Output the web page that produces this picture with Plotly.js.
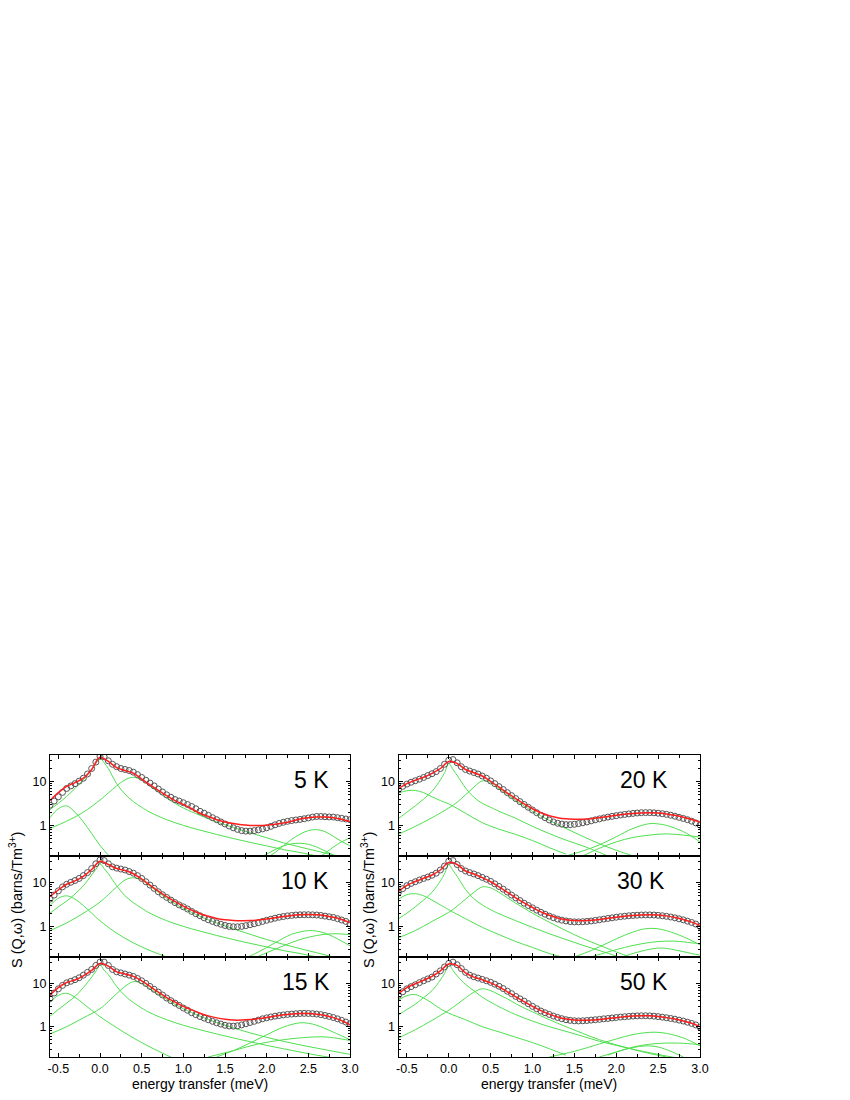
<!DOCTYPE html>
<html>
<head>
<meta charset="utf-8">
<script src="https://cdn.plot.ly/plotly-3.0.1.min.js"></script>
<style>
  html, body { margin: 0; padding: 0; background: #fff; }
  #chart { width: 850px; height: 1100px; }
</style>
</head>
<body>
<div id="chart"></div>
<script>
// === S(Q,w) spectra at six temperatures: data, fit and fit components ===

const FONT = 'Arial, "Liberation Sans", sans-serif';
const GREEN = '#4fe04f';
const RED = '#ff1e1e';
const DOT = '#555555';

// energy transfer grid of the measured points and of the fit curves (meV)
const E_DATA = [-0.60,-0.55,-0.50,-0.45,-0.40,-0.35,-0.30,-0.25,-0.20,-0.15,-0.10,-0.05,
  0.00,0.05,0.10,0.15,0.20,0.25,0.30,0.35,0.40,0.45,0.50,0.55,0.60,0.65,0.70,0.75,
  0.80,0.85,0.90,0.95,1.00,1.05,1.10,1.15,1.20,1.25,1.30,1.35,1.40,1.45,1.50,1.55,
  1.60,1.65,1.70,1.75,1.80,1.85,1.90,1.95,2.00,2.05,2.10,2.15,2.20,2.25,2.30,2.35,
  2.40,2.45,2.50,2.55,2.60,2.65,2.70,2.75,2.80,2.85,2.90,2.95,3.00];
const E_FIT = [-0.6,-0.5,-0.4,-0.3,-0.2,-0.1,0.0,0.1,0.2,0.3,0.4,0.5,0.6,0.7,0.8,0.9,
  1.0,1.1,1.2,1.3,1.4,1.5,1.6,1.7,1.8,1.9,2.0,2.1,2.2,2.3,2.4,2.5,2.6,2.7,2.8,2.9,3.0];

// x positions of component curves
const E_QE = [-0.6,-0.5,-0.4,-0.3,-0.2,-0.1,-0.05,0.0,0.05,0.1,0.2,0.3,0.4,0.5,0.6,
  0.8,1.0,1.2,1.4,1.6,1.8,2.0,2.2,2.4,2.6,2.8];
const E_IN = [-0.6,-0.4,-0.2,0.0,0.1,0.2,0.3,0.4,0.5,0.6,0.7,0.8,0.9,1.0,1.2,1.4,
  1.6,1.8,2.0,2.2,2.4,2.6,2.8,3.0];

// ---- 5 K ----
const data5 = [2.9,3.6,4.5,5.7,7.0,8.0,9.0,10.3,12.0,15,20,28,38,37,30,25,22,20,19,18,
  16.5,14.5,12.5,10.8,9.3,8.0,6.8,5.8,5.0,4.4,3.9,3.6,3.3,3.0,2.7,2.4,2.1,1.9,1.7,1.5,
  1.35,1.2,1.08,0.97,0.88,0.81,0.76,0.74,0.74,0.76,0.79,0.83,0.88,0.95,1.03,1.11,1.18,
  1.24,1.29,1.33,1.37,1.42,1.48,1.55,1.60,1.60,1.58,1.56,1.55,1.50,1.45,1.40,1.35];
const fit5 = [3.7,5.6,7.8,9.5,12,19,36,29,21,18,15.6,11.5,8.5,6.3,4.8,3.7,3.0,2.4,1.9,
  1.6,1.35,1.2,1.1,1.03,1.0,0.99,1.01,1.06,1.13,1.25,1.4,1.5,1.55,1.55,1.5,1.38,1.22];
const comp5 = [
  { e: [-0.6,-0.5,-0.4,-0.3,-0.2,-0.1,0.0,0.1,0.15], s: [1.5,2.4,2.8,2.0,1.2,0.65,0.35,0.21,0.17] },
  { e: E_QE, s: [2.3,3.2,4.6,7,11,19,26,34,27,20,9,5.2,3.5,2.6,2.0,1.35,1.0,0.78,0.62,0.5,0.41,0.34,0.28,0.24,0.2,0.17] },
  { e: E_IN, s: [0.85,1.25,2.0,3.8,5.5,8,11,12.6,11,8,5.8,4.2,3.2,2.5,1.7,1.2,0.9,0.68,0.52,0.4,0.32,0.26,0.21,0.18] },
  { e: [1.9,2.0,2.1,2.2,2.3,2.4,2.5,2.6,2.7,2.8,2.9], s: [0.17,0.22,0.28,0.34,0.38,0.39,0.37,0.32,0.26,0.21,0.17] },
  { e: [2.0,2.1,2.2,2.3,2.4,2.5,2.6,2.7,2.8,2.9,3.0], s: [0.18,0.24,0.34,0.48,0.63,0.76,0.8,0.72,0.56,0.43,0.34] },
  { e: [2.6,2.7,2.8,2.9,3.0], s: [0.17,0.23,0.32,0.42,0.52] }
];

// ---- 10 K ----
const data10 = [4.2,5.2,6.5,8.0,9.2,10.2,11.2,12.5,14.5,17,21,27,33,32,27,23,21.5,20.5,
  19.5,18,16.5,14.5,12.5,10.5,8.8,7.4,6.2,5.3,4.6,4.0,3.5,3.1,2.8,2.5,2.2,1.95,1.75,
  1.57,1.42,1.3,1.2,1.12,1.05,1.0,0.98,0.98,1.0,1.04,1.09,1.15,1.22,1.3,1.38,1.46,1.54,
  1.62,1.68,1.74,1.78,1.82,1.84,1.85,1.85,1.84,1.82,1.78,1.72,1.66,1.6,1.5,1.4,1.3,1.15];
const fit10 = [4.8,6.8,9.2,11,14,20,31,26,21,19,16,12,8.8,6.4,4.8,3.7,2.9,2.35,1.95,1.7,
  1.52,1.42,1.37,1.35,1.36,1.4,1.47,1.57,1.68,1.78,1.84,1.86,1.84,1.76,1.62,1.44,1.22];
const comp10 = [
  { e: [-0.6,-0.5,-0.4,-0.3,-0.2,-0.1,0.0,0.2,0.4,0.6,0.8,0.9], s: [3.0,4.4,5.0,4.2,3.0,2.0,1.35,0.7,0.42,0.28,0.2,0.17] },
  { e: E_QE, s: [2.0,2.8,3.8,5.5,8.5,15,20,27,21,16,8.5,5,3.5,2.6,2.0,1.35,1.0,0.78,0.62,0.5,0.41,0.34,0.28,0.24,0.2,0.17] },
  { e: E_IN, s: [0.8,1.2,2.0,3.6,5.3,8,11.5,13,11.5,8.3,6,4.4,3.3,2.6,1.7,1.2,0.88,0.66,0.5,0.39,0.31,0.25,0.2,0.17] },
  { e: [1.7,1.9,2.1,2.3,2.5,2.6,2.7,2.8,2.9,3.0], s: [0.17,0.26,0.42,0.66,0.8,0.78,0.7,0.58,0.46,0.36] },
  { e: [1.8,2.0,2.2,2.4,2.6,2.8,3.0], s: [0.17,0.25,0.36,0.5,0.62,0.68,0.65] }
];

// ---- 15 K ----
const data15 = [4.5,6.0,7.5,9.0,10.3,11.2,12.2,13.5,15.5,18,21,26,31,31,26,21,18.5,17.5,
  16.5,15.5,14.5,13,11.5,10,8.5,7.3,6.3,5.4,4.6,4.0,3.5,3.1,2.7,2.4,2.1,1.9,1.72,1.58,
  1.45,1.33,1.23,1.15,1.08,1.04,1.03,1.05,1.1,1.17,1.25,1.33,1.42,1.52,1.6,1.68,1.75,
  1.81,1.87,1.92,1.96,1.99,2.02,2.03,2.02,2.0,1.96,1.9,1.82,1.73,1.63,1.52,1.4,1.28,1.17];
const fit15 = [5.4,8,10.5,12,15,20,29,25,18.5,16.5,14.5,11.5,8.5,6.3,4.7,3.7,2.95,2.45,
  2.05,1.78,1.6,1.48,1.42,1.42,1.46,1.54,1.64,1.76,1.88,1.97,2.02,2.02,1.95,1.82,1.62,1.38,1.1];
const comp15 = [
  { e: [-0.6,-0.5,-0.4,-0.3,-0.2,-0.1,0.0,0.2,0.4,0.6,0.8,0.9], s: [3.6,5.3,5.9,4.8,3.4,2.4,1.7,0.95,0.55,0.34,0.22,0.18] },
  { e: E_QE, s: [1.75,2.5,3.5,5,8,14,19,27,20,16,8.5,5.2,3.6,2.7,2.1,1.45,1.08,0.85,0.68,0.55,0.45,0.37,0.31,0.26,0.22,0.19] },
  { e: E_IN, s: [0.68,1.0,1.6,2.6,3.8,5.8,8.5,11,10,7.5,5.6,4.3,3.3,2.6,1.75,1.25,0.94,0.72,0.57,0.46,0.38,0.32,0.27,0.23] },
  { e: [1.4,1.6,1.8,2.0,2.2,2.4,2.5,2.6,2.8,3.0], s: [0.2,0.28,0.42,0.65,0.98,1.23,1.2,1.08,0.75,0.5] },
  { e: [1.3,1.6,1.9,2.2,2.5,2.7,2.9,3.0], s: [0.2,0.28,0.4,0.5,0.57,0.58,0.52,0.48] }
];

// ---- 20 K ----
const data20 = [6.6,7.8,8.8,9.7,10.5,11.4,12.5,13.8,15.2,17,20,25,31,32,27,22,19,17.5,
  16.2,15,13.5,12,10.4,9,7.7,6.6,5.6,4.8,4.1,3.5,3.0,2.6,2.25,1.95,1.7,1.5,1.33,1.2,1.12,
  1.07,1.04,1.04,1.06,1.1,1.15,1.2,1.27,1.34,1.41,1.48,1.55,1.61,1.67,1.73,1.78,1.83,
  1.88,1.92,1.95,1.96,1.96,1.94,1.9,1.85,1.79,1.71,1.62,1.53,1.44,1.35,1.25,1.14,1.02];
const fit20 = [6.9,9,10.8,12.6,15.5,20,29,26,19,16,13.5,10.2,7.5,5.5,4.1,3.1,2.4,1.95,
  1.67,1.5,1.41,1.38,1.38,1.42,1.5,1.6,1.7,1.8,1.88,1.93,1.95,1.92,1.83,1.7,1.54,1.37,1.2];
const comp20 = [
  { e: [-0.6,-0.5,-0.4,-0.3,-0.2,-0.1,0.0,0.2,0.4,0.6,0.8,1.0,1.2,1.4], s: [5.5,6.2,6.3,5.6,4.5,3.7,3.1,1.9,1.15,0.82,0.62,0.45,0.31,0.22] },
  { e: [-0.6,-0.5,-0.4,-0.3,-0.2,-0.1,-0.05,0.0,0.05,0.1,0.2,0.3,0.4,0.5,0.6,0.8,1.0,1.2,1.4,1.6,1.8,1.9],
    s: [1.44,2.0,2.8,4.0,6.0,11,16,26,19,14,7.2,4.4,3.2,2.6,2.1,1.45,0.95,0.65,0.46,0.34,0.24,0.2] },
  { e: [-0.6,-0.4,-0.2,0.0,0.1,0.2,0.3,0.4,0.5,0.6,0.7,0.8,0.9,1.0,1.2,1.4,1.6,1.8,2.0,2.2],
    s: [0.63,0.95,1.5,2.5,3.4,5.0,7.5,10.4,9.5,7.0,5.1,3.7,2.8,2.1,1.3,0.85,0.56,0.38,0.27,0.2] },
  { e: [1.4,1.6,1.8,2.0,2.2,2.4,2.5,2.6,2.8,3.0], s: [0.2,0.26,0.36,0.55,0.85,1.1,1.08,1.0,0.72,0.42] },
  { e: [1.6,1.8,2.0,2.2,2.4,2.6,2.8,3.0], s: [0.2,0.3,0.42,0.53,0.6,0.64,0.6,0.54] }
];

// ---- 30 K ----
const data30 = [6.0,7.3,8.5,9.6,10.5,11.5,12.5,13.5,14.8,16.5,19.5,24,31,32,26,21,18.5,
  17,15.8,14.5,13.2,12,10.7,9.4,8.2,7.1,6.1,5.2,4.5,3.9,3.4,3.0,2.65,2.35,2.1,1.9,1.72,
  1.58,1.47,1.39,1.33,1.29,1.27,1.27,1.28,1.3,1.33,1.37,1.42,1.47,1.52,1.57,1.62,1.67,
  1.71,1.75,1.78,1.8,1.82,1.83,1.83,1.82,1.79,1.75,1.7,1.64,1.57,1.49,1.41,1.32,1.23,1.13,1.0];
const fit30 = [6.3,8.7,10.6,12.6,15,19.5,29,26,18.5,15.8,13,10.5,8.0,6.0,4.5,3.45,2.7,
  2.15,1.8,1.56,1.42,1.36,1.35,1.38,1.44,1.53,1.62,1.71,1.78,1.83,1.85,1.82,1.74,1.6,1.44,1.25,1.05];
const comp30 = [
  { e: [-0.6,-0.5,-0.4,-0.3,-0.2,-0.1,0.0,0.2,0.4,0.6,0.8,1.0,1.2,1.4], s: [4.2,5.3,5.6,5.0,4.0,3.1,2.4,1.5,0.95,0.65,0.45,0.33,0.24,0.19] },
  { e: [-0.6,-0.5,-0.4,-0.3,-0.2,-0.1,-0.05,0.0,0.05,0.1,0.2,0.3,0.4,0.5,0.6,0.8,1.0,1.2,1.4,1.6,1.8,2.0,2.1],
    s: [1.5,2.0,2.8,4.0,6.0,11,16,26,19,14,7,4.3,3.1,2.4,1.95,1.35,0.95,0.68,0.5,0.37,0.28,0.21,0.18] },
  { e: [-0.6,-0.4,-0.2,0.0,0.1,0.2,0.3,0.4,0.5,0.6,0.7,0.8,0.9,1.0,1.2,1.4,1.6,1.8,2.0,2.2],
    s: [0.55,0.8,1.3,2.1,2.9,4.2,6.0,8.0,7.6,6.0,4.5,3.4,2.6,2.0,1.25,0.8,0.53,0.37,0.26,0.19] },
  { e: [1.5,1.7,1.9,2.1,2.3,2.4,2.5,2.6,2.8,3.0], s: [0.2,0.28,0.42,0.63,0.85,0.9,0.88,0.8,0.58,0.38] },
  { e: [1.7,1.9,2.1,2.3,2.5,2.7,2.9,3.0], s: [0.2,0.26,0.33,0.4,0.45,0.46,0.42,0.4] },
  { e: [2.0,2.2,2.4,2.55,2.7,2.9,3.0], s: [0.18,0.24,0.3,0.32,0.29,0.24,0.22] }
];

// ---- 50 K ----
const data50 = [5.3,6.4,7.5,8.4,9.3,10.4,11.5,12.7,14,16.5,19.5,24,29,31,27,22,18,15.5,
  14.2,13.3,12.4,11.5,10.6,9.6,8.6,7.6,6.6,5.8,5.0,4.4,3.9,3.4,2.95,2.6,2.3,2.1,1.92,
  1.76,1.63,1.53,1.45,1.4,1.37,1.36,1.37,1.39,1.42,1.45,1.48,1.52,1.55,1.59,1.63,1.67,
  1.7,1.73,1.76,1.78,1.79,1.79,1.78,1.75,1.71,1.66,1.61,1.55,1.49,1.42,1.35,1.27,1.19,1.1,0.98];
const fit50 = [5.8,8.0,9.8,11.8,14.5,19.5,28,26,17.5,14,12.2,10.3,8.3,6.4,4.9,3.8,2.95,
  2.35,1.95,1.67,1.5,1.42,1.4,1.42,1.47,1.54,1.62,1.7,1.76,1.79,1.78,1.72,1.62,1.5,1.36,1.2,1.0];
const comp50 = [
  { e: [-0.6,-0.5,-0.4,-0.3,-0.2,-0.1,0.0,0.2,0.4,0.6,0.8,1.0,1.2,1.4], s: [4.1,5.2,5.5,4.6,3.5,2.6,2.05,1.45,1.0,0.76,0.57,0.43,0.31,0.22] },
  { e: E_QE, s: [1.87,2.5,3.3,4.7,6.8,12,17,28,20,15,9.5,6.8,4.8,3.7,2.9,1.9,1.35,1.0,0.78,0.6,0.46,0.37,0.3,0.25,0.21,0.18] },
  { e: [-0.6,-0.4,-0.2,0.0,0.1,0.2,0.3,0.4,0.5,0.6,0.7,0.8,0.9,1.0,1.2,1.4,1.6,1.8,2.0,2.2,2.4,2.6],
    s: [0.55,0.85,1.4,2.4,3.3,4.6,6.3,7.5,6.8,5.5,4.4,3.4,2.7,2.2,1.45,1.0,0.7,0.5,0.38,0.3,0.24,0.2] },
  { e: [1.2,1.5,1.8,2.0,2.2,2.4,2.5,2.6,2.8,3.0], s: [0.2,0.27,0.4,0.52,0.66,0.74,0.74,0.7,0.55,0.36] },
  { e: [1.8,2.0,2.2,2.35,2.5,2.65,2.8], s: [0.2,0.26,0.33,0.36,0.34,0.27,0.2] },
  { e: [1.9,2.1,2.3,2.5,2.7,2.9,3.0], s: [0.22,0.3,0.37,0.41,0.42,0.4,0.38] }
];

const TEMPS = ['5 K', '10 K', '15 K', '20 K', '30 K', '50 K'];
const X_TICKS = [-0.5, 0, 0.5, 1.0, 1.5, 2.0, 2.5, 3.0];
const X_TICKTEXT = ['-0.5', '0.0', '0.5', '1.0', '1.5', '2.0', '2.5', '3.0'];
const X_MINOR = [-0.25, 0.25, 0.75, 1.25, 1.75, 2.25, 2.75];
const Y_TICKS = [1, 10];
const Y_TICKTEXT = ['1', '10'];
const Y_MINOR = [0.3,0.4,0.5,0.6,0.7,0.8,0.9,2,3,4,5,6,7,8,9,20,30,40];

// panel geometry (paper fractions)
const COL_X = [[50/850, 350/850], [398.5/850, 700/850]];
const ROW_Y = [[1-856/1100, 1-755/1100], [1-957/1100, 1-856/1100], [1-1057/1100, 1-957/1100]];
const LABEL_X = [0.935, 0.935, 0.94, 0.9, 0.89, 0.9];

const panels = [
  { d: data5,  f: fit5,  c: comp5  },
  { d: data10, f: fit10, c: comp10 },
  { d: data15, f: fit15, c: comp15 },
  { d: data20, f: fit20, c: comp20 },
  { d: data30, f: fit30, c: comp30 },
  { d: data50, f: fit50, c: comp50 }
];

const traces = [];
const layout = {
  width: 850, height: 1100,
  margin: { l: 0, r: 0, t: 0, b: 0 },
  paper_bgcolor: '#fff', plot_bgcolor: '#fff',
  showlegend: false,
  font: { family: FONT, size: 12, color: '#000' },
  annotations: []
};

panels.forEach((p, i) => {
  const n = i + 1;
  const xa = 'x' + (n === 1 ? '' : n);
  const ya = 'y' + (n === 1 ? '' : n);
  const col = i < 3 ? 0 : 1;
  const row = i % 3;

  p.c.forEach(c => traces.push({
    x: c.e, y: c.s, xaxis: xa, yaxis: ya, mode: 'lines',
    line: { color: GREEN, width: 1, shape: 'spline', smoothing: 1 }, hoverinfo: 'skip'
  }));
  traces.push({
    x: E_DATA, y: p.d, xaxis: xa, yaxis: ya, mode: 'markers',
    marker: { symbol: 'circle-open', size: 6, color: DOT, line: { width: 1, color: DOT } }
  });
  traces.push({
    x: E_FIT, y: p.f, xaxis: xa, yaxis: ya, mode: 'lines',
    line: { color: RED, width: 1.5, shape: 'spline', smoothing: 1 }
  });

  layout['xaxis' + (n === 1 ? '' : n)] = {
    domain: COL_X[col], anchor: ya, range: [-0.6, 3.0],
    showline: true, linecolor: '#000', linewidth: 1, mirror: 'ticks',
    ticks: 'inside', ticklen: 4, tickcolor: '#000',
    tickmode: 'array', tickvals: X_TICKS, ticktext: X_TICKTEXT,
    minor: { tickmode: 'array', tickvals: X_MINOR, ticks: 'inside', ticklen: 3, tickcolor: '#000' },
    showticklabels: row === 2, showgrid: false, zeroline: false,
    tickfont: { family: FONT, size: 12.5, color: '#000' }
  };
  layout['yaxis' + (n === 1 ? '' : n)] = {
    domain: ROW_Y[row], anchor: xa, type: 'log', range: [-0.70, 1.61],
    showline: true, linecolor: '#000', linewidth: 1, mirror: 'ticks',
    ticks: 'inside', ticklen: 4, tickcolor: '#000',
    tickmode: 'array', tickvals: Y_TICKS, ticktext: Y_TICKTEXT,
    minor: { tickmode: 'array', tickvals: Y_MINOR, ticks: 'inside', ticklen: 2, tickcolor: '#000' },
    showgrid: false, zeroline: false,
    tickfont: { family: FONT, size: 12.5, color: '#000' }
  };

  layout.annotations.push({
    text: TEMPS[i], xref: xa + ' domain', yref: ya + ' domain',
    x: LABEL_X[i], y: 0.75, xanchor: 'right', yanchor: 'middle',
    showarrow: false, font: { family: FONT, size: 23, color: '#000' }
  });
});

// axis titles
[0, 1].forEach(col => {
  const cx = (COL_X[col][0] + COL_X[col][1]) / 2;
  layout.annotations.push({
    text: 'energy transfer (meV)', xref: 'paper', yref: 'paper',
    x: cx, y: 1 - 1084/1100, xanchor: 'center', yanchor: 'middle',
    showarrow: false, font: { family: FONT, size: 14, color: '#000' }
  });
  layout.annotations.push({
    text: 'S (Q,\u03c9) (barns/Tm<sup>3+</sup>)', xref: 'paper', yref: 'paper',
    x: (col === 0 ? 16 : 368) / 850, y: 1 - 900/1100, textangle: -90,
    xanchor: 'center', yanchor: 'middle',
    showarrow: false, font: { family: FONT, size: 14.5, color: '#000' }
  });
});

Plotly.newPlot('chart', traces, layout, { displayModeBar: false, staticPlot: true });
</script>
</body>
</html>
